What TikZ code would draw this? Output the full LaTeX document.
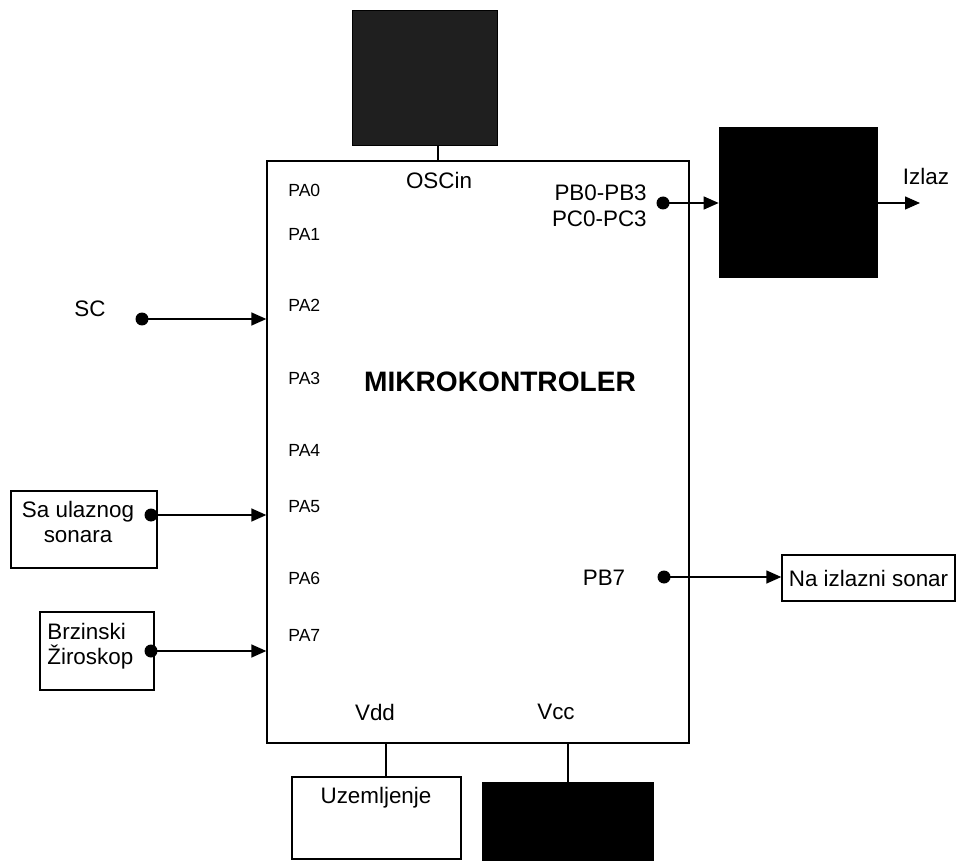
\documentclass[tikz,border=0pt]{standalone}
\usepackage{fontspec}
\setmainfont{Liberation Sans}
\usetikzlibrary{positioning, arrows.meta, calc}
\tikzset{
  blockbox/.style={
    rectangle,
    draw,
    line width=0.8pt,
    inner sep=0pt
  },
  darkbox/.style={
    rectangle,
    draw=black,
    fill=black,
    inner sep=0pt
  },
  pinlabel/.style={
    font=\fontsize{10}{12}\selectfont,
    anchor=west,
    inner sep=0pt
  },
  sigtext/.style={
    font=\fontsize{12.75}{14.5}\selectfont,
    inner sep=0pt
  },
  sigdot/.style={
    circle,
    fill=black,
    inner sep=0pt,
    minimum size=0.26cm
  },
  sigarrow/.style={
    -{Triangle[length=3mm,width=2.6mm]},
    line width=0.8pt
  },
  sigline/.style={
    line width=0.8pt
  }
}

\begin{document}
\begin{tikzpicture}[x=0.02cm, y=-0.02cm]
  \useasboundingbox (0,0) rectangle (956,861);

  % mikrokontroler
  \node[blockbox, minimum width=8.44cm, minimum height=11.64cm] (mk) at (478,452) {};
  \node[font=\fontsize{16}{18}\selectfont\bfseries, inner sep=0pt] (mktitle) at (500,382) {MIKROKONTROLER};
  \foreach \n/\y in {0/190, 1/234, 2/305, 3/378, 4/450, 5/507, 6/578, 7/635}
    \node[pinlabel] (pa\n) at (288,\y) {PA\n};
  \node[sigtext] (oscin) at (439,180) {OSCin};
  \node[sigtext, align=right, anchor=east] (pbc) at (647,206) {PB0-PB3\\PC0-PC3};
  \node[sigtext] (pb7) at (604,578) {PB7};
  \node[sigtext] (vdd) at (375,712) {Vdd};
  \node[sigtext] (vcc) at (556,712) {Vcc};

  % okolni blokovi
  \node[darkbox, fill=black!88, minimum width=2.9cm, minimum height=2.7cm] (osc) at (424.5,77.5) {};
  \node[darkbox, minimum width=3.16cm, minimum height=3cm] (drv) at (798,202) {};
  \node[darkbox, minimum width=3.42cm, minimum height=1.8cm] (pwr) at (567.5,827) {};
  \node[blockbox, minimum width=2.92cm, minimum height=1.54cm] (sonin) at (84,529.5) {};
  \node[sigtext, align=center] (sonintext) at (78,522) {Sa ulaznog\\sonara};
  \node[blockbox, minimum width=2.28cm, minimum height=1.56cm] (gyro) at (97,651) {};
  \node[sigtext, align=left, anchor=west] (gyrotext) at (47,646) {Brzinski\\Žiroskop};
  \node[blockbox, sigtext, minimum width=3.46cm, minimum height=0.92cm] (sonout) at (868.5,578) {Na izlazni sonar};
  \node[blockbox, minimum width=3.38cm, minimum height=1.64cm] (gnd) at (376.5,818) {};
  \node[sigtext] (gndtext) at (376,798) {Uzemljenje};
  \node[sigtext] (sc) at (90,309) {SC};
  \node[sigtext] (izlaz) at (926,176) {Izlaz};

  % tocke
  \node[sigdot] (dsc) at (142,319) {};
  \node[sigdot] (dsonin) at (151,515) {};
  \node[sigdot] (dgyro) at (151,651) {};
  \node[sigdot] (dpbc) at (663,203) {};
  \node[sigdot] (dpb7) at (664,577) {};
  \coordinate (oscpin) at (438,161);
  \coordinate (vddpin) at (386,743);
  \coordinate (vccpin) at (568,743);
  \coordinate (out) at (920,203);

  % veze
  \draw[sigarrow] (dsc.center) -- (dsc -| mk.west);
  \draw[sigarrow] (dsonin.center) -- (dsonin -| mk.west);
  \draw[sigarrow] (dgyro.center) -- (dgyro -| mk.west);
  \draw[sigarrow] (dpbc.center) -- (dpbc -| drv.west);
  \draw[sigarrow] (drv.east |- out) -- (out);
  \draw[sigarrow] (dpb7.center) -- (dpb7 -| sonout.west);
  \draw[sigline] (oscpin |- osc.south) -- (oscpin);
  \draw[sigline] (vddpin) -- (vddpin |- gnd.north);
  \draw[sigline] (vccpin) -- (vccpin |- pwr.north);
\end{tikzpicture}
\end{document}
